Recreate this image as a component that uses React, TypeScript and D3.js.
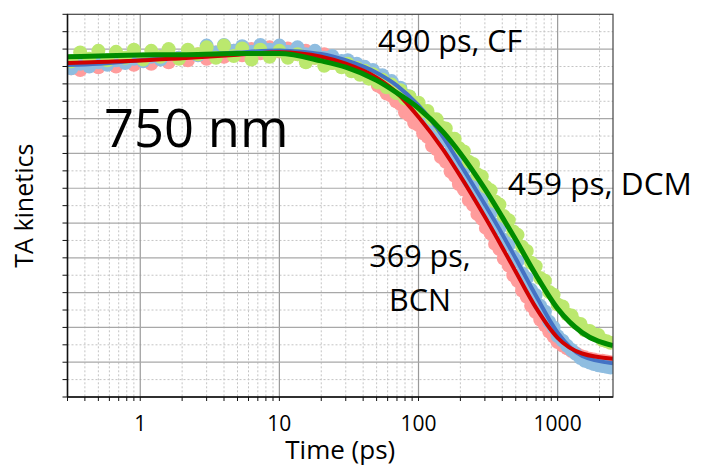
import React from "react";
import * as d3 from "d3";

// fit curves
const fitTimes = [0.3, 0.5, 1, 2, 5, 10, 20, 30, 50, 70, 100, 150, 200, 300, 400, 500, 700, 1000, 1500, 2500];
const redFit = [0.96, 0.963, 0.967, 0.974, 0.984, 0.991, 0.978, 0.958, 0.918, 0.874, 0.805, 0.712, 0.635, 0.518, 0.43, 0.36, 0.256, 0.17, 0.125, 0.11];
const blueFit = [0.954, 0.958, 0.968, 0.978, 0.99, 0.996, 0.986, 0.968, 0.932, 0.895, 0.838, 0.748, 0.668, 0.553, 0.468, 0.398, 0.29, 0.185, 0.118, 0.097];
const greenFit = [0.978, 0.98, 0.983, 0.984, 0.987, 0.987, 0.966, 0.948, 0.91, 0.874, 0.83, 0.762, 0.7, 0.598, 0.517, 0.452, 0.35, 0.254, 0.185, 0.148];

// measured kinetics (dots)
const dataTimes = [
  0.32, 0.37, 0.43, 0.5, 0.58, 0.67, 0.78, 0.9, 1.05, 1.2, 1.4, 1.6, 1.9, 2.2, 2.6, 3.0, 3.5, 4.0, 4.7, 5.4,
  6.3, 7.3, 8.5, 10, 11.5, 13.5, 15.5, 18, 21, 24,
  28, 31, 33, 36, 38, 41, 44, 47, 51, 55, 59, 64, 69, 74, 80, 86, 93, 100, 108, 116,
  125, 135, 145, 157, 170, 182, 195, 212, 230, 247, 265, 285, 305, 330, 355, 382, 410, 445, 480, 515,
  555, 600, 645, 695, 750, 810, 870, 935, 1000, 1085, 1170, 1260, 1350, 1460, 1570, 1700, 1820, 1960, 2100, 2250, 2400,
];
const redData = [
  0.945, 0.94, 0.952, 0.948, 0.958, 0.95, 0.962, 0.955, 0.968, 0.958, 0.972, 0.962, 0.975, 0.968, 0.985, 0.972, 0.99, 0.978, 0.995, 0.982,
  1.0, 0.988, 1.005, 0.993, 1.002, 0.985, 0.995, 0.975, 0.985, 0.96,
  0.962, 0.952, 0.952, 0.94, 0.942, 0.928, 0.926, 0.915, 0.895, 0.888, 0.872, 0.866, 0.85, 0.842, 0.818, 0.81, 0.788, 0.782, 0.758, 0.748,
  0.722, 0.712, 0.69, 0.676, 0.648, 0.636, 0.612, 0.596, 0.566, 0.552, 0.526, 0.512, 0.486, 0.47, 0.44, 0.425, 0.398, 0.378, 0.35, 0.334,
  0.306, 0.288, 0.262, 0.244, 0.222, 0.206, 0.188, 0.174, 0.158, 0.148, 0.14, 0.132, 0.126, 0.118, 0.114, 0.11, 0.108, 0.105, 0.104, 0.102, 0.1,
];
const blueData = [
  0.945, 0.958, 0.95, 0.962, 0.955, 0.968, 0.96, 0.972, 0.965, 0.978, 0.97, 0.985, 0.975, 0.995, 0.982, 1.01, 0.99, 1.012, 0.995, 1.008,
  0.992, 1.012, 0.998, 1.01, 0.992, 1.005, 0.985, 0.995, 0.975, 0.98,
  0.966, 0.968, 0.956, 0.958, 0.946, 0.949, 0.936, 0.94, 0.925, 0.925, 0.908, 0.908, 0.89, 0.889, 0.867, 0.864, 0.843, 0.84, 0.814, 0.807,
  0.781, 0.773, 0.748, 0.737, 0.706, 0.696, 0.668, 0.653, 0.62, 0.61, 0.58, 0.569, 0.54, 0.527, 0.495, 0.484, 0.452, 0.437, 0.403, 0.39,
  0.356, 0.341, 0.308, 0.293, 0.262, 0.246, 0.216, 0.2, 0.175, 0.162, 0.147, 0.135, 0.124, 0.112, 0.104, 0.099, 0.095, 0.091, 0.089, 0.087, 0.085,
];
const greenData = [
  0.965, 0.99, 0.972, 0.995, 0.968, 0.992, 0.975, 0.998, 0.97, 0.995, 0.978, 1.0, 0.972, 0.998, 0.985, 1.005, 0.975, 1.01, 0.98, 1.002,
  0.97, 0.998, 0.978, 0.995, 0.975, 0.985, 0.962, 0.975, 0.952, 0.96,
  0.948, 0.958, 0.936, 0.946, 0.926, 0.938, 0.915, 0.928, 0.904, 0.912, 0.89, 0.898, 0.874, 0.882, 0.858, 0.864, 0.842, 0.846, 0.822, 0.822,
  0.8, 0.798, 0.776, 0.772, 0.744, 0.742, 0.716, 0.706, 0.676, 0.67, 0.64, 0.634, 0.604, 0.594, 0.562, 0.553, 0.52, 0.508, 0.476, 0.466,
  0.432, 0.42, 0.386, 0.376, 0.342, 0.334, 0.302, 0.294, 0.266, 0.26, 0.238, 0.234, 0.214, 0.21, 0.192, 0.19, 0.18, 0.178, 0.164, 0.16, 0.156,
];

const xTickValues = [1, 10, 100, 1000];
const xTickLabels = ["1", "10", "100", "1000"];

const W = 706;
const H = 466;
const m = { left: 67.5, right: 93, top: 14.3, bottom: 69 };
const font = "'Open Sans', Lato, sans-serif";

export default function App() {
  const x = d3.scaleLog().domain([0.3, 2500]).range([m.left, W - m.right]);
  const y = d3.scaleLinear().domain([0, 1.1]).range([H - m.bottom, m.top]);

  // minor decade ticks 2..9
  const minorX: number[] = [];
  [0.1, 1, 10, 100, 1000].forEach((d) => {
    for (let k = 2; k < 10; k++) {
      const v = d * k;
      if (v >= 0.3 && v <= 2500) minorX.push(v);
    }
  });
  const majorY = d3.range(1, 11).map((i) => i / 10);
  const minorY = d3.range(0, 11).map((i) => i / 10 + 0.05);
  const allYTicks = d3.range(0, 23).map((i) => i * 0.05);

  const line = d3
    .line<number>()
    .x((_, i) => x(fitTimes[i]))
    .y((v) => y(v))
    .curve(d3.curveMonotoneX);

  const x0 = m.left;
  const x1 = W - m.right;
  const y0 = H - m.bottom;
  const y1 = m.top;

  const dots = (vals: number[], color: string) =>
    vals.map((v, i) => (
      <circle key={i} cx={x(dataTimes[i])} cy={y(v)} r={7} fill={color} />
    ));

  return (
    <svg width={W} height={H} style={{ position: "absolute", left: 0, top: 0 }} fontFamily={font}>
      <defs>
        <clipPath id="plot">
          <rect x={x0} y={y1} width={x1 - x0} height={y0 - y1} />
        </clipPath>
      </defs>
      <rect width={W} height={H} fill="#fff" />

      {/* grid */}
      {minorX.map((v) => (
        <line key={"mx" + v} x1={x(v)} x2={x(v)} y1={y1} y2={y0} stroke="#c4c4c4" strokeDasharray="2,2" />
      ))}
      {minorY.map((v) => (
        <line key={"my" + v} x1={x0} x2={x1} y1={y(v)} y2={y(v)} stroke="#c4c4c4" strokeDasharray="2,2" />
      ))}
      {xTickValues.map((v) => (
        <line key={"Mx" + v} x1={x(v)} x2={x(v)} y1={y1} y2={y0} stroke="#9a9a9a" strokeWidth={1.2} />
      ))}
      {majorY.map((v) => (
        <line key={"My" + v} x1={x0} x2={x1} y1={y(v)} y2={y(v)} stroke="#a8a8a8" strokeWidth={1.2} />
      ))}

      <g clipPath="url(#plot)">
        {dots(redData, "#ff9c9c")}
        {dots(blueData, "#8fbde0")}
        {dots(greenData, "#bbe86e")}
        <path d={line(blueFit) || ""} fill="none" stroke="#4472c4" strokeWidth={4} />
        <path d={line(redFit) || ""} fill="none" stroke="#d00000" strokeWidth={4} />
        <path d={line(greenFit) || ""} fill="none" stroke="#008c00" strokeWidth={5} />
      </g>

      {/* frame */}
      <rect x={x0} y={y1} width={x1 - x0} height={y0 - y1} fill="none" stroke="#444" strokeWidth={1.2} />
      <line x1={x0} x2={x0} y1={y1} y2={y0} stroke="#111" strokeWidth={1.5} />
      <line x1={x0} x2={x1} y1={y0} y2={y0} stroke="#111" strokeWidth={1.5} />

      {/* ticks */}
      {allYTicks.map((v, i) => (
        <line key={"yt" + i} x1={x0 - 5} x2={x0} y1={y(v)} y2={y(v)} stroke="#111" />
      ))}
      {[...minorX, ...xTickValues].map((v) => (
        <line key={"xt" + v} x1={x(v)} x2={x(v)} y1={y0} y2={y0 + 4} stroke="#111" />
      ))}
      {xTickValues.map((v, i) => (
        <text key={"xl" + v} x={x(v)} y={y0 + 34} textAnchor="middle" fontSize={21} fill="#000">
          {xTickLabels[i]}
        </text>
      ))}

      <text x={(x0 + x1) / 2} y={459} textAnchor="middle" fontSize={26}>
        Time (ps)
      </text>
      <text transform={`translate(33,${(y0 + y1) / 2}) rotate(-90)`} textAnchor="middle" fontSize={25}>
        TA kinetics
      </text>

      <text x={104} y={147} fontSize={52.5}>750 nm</text>
      <text x={378} y={52} fontSize={30.5}>490 ps, CF</text>
      <text x={508} y={195} fontSize={31.5}>459 ps, DCM</text>
      <text x={420} y={267} fontSize={30.5} textAnchor="middle">369 ps,</text>
      <text x={420} y={311} fontSize={30.5} textAnchor="middle">BCN</text>
    </svg>
  );
}
